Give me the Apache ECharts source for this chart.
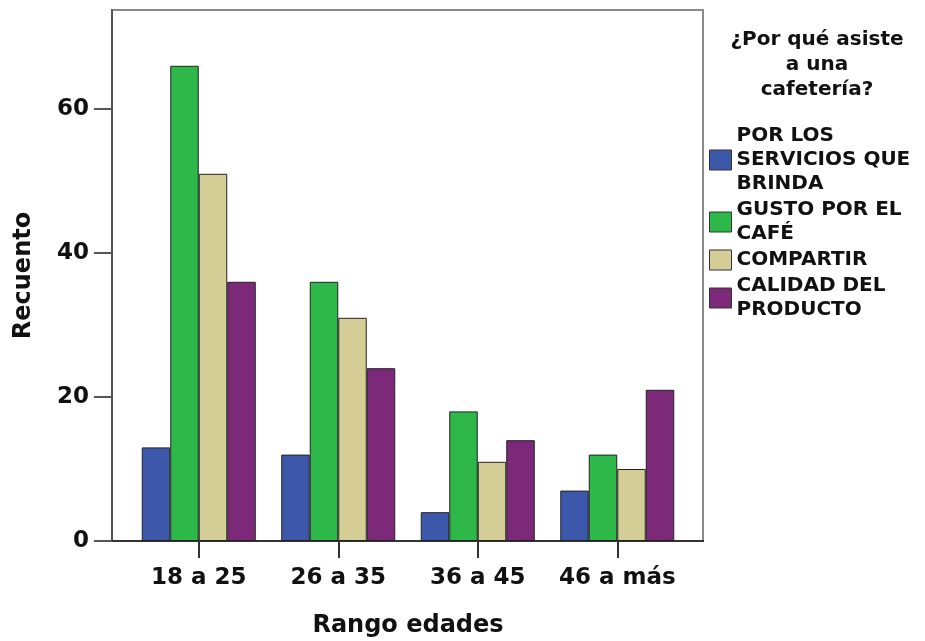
<!DOCTYPE html>
<html>
<head>
<meta charset="utf-8">
<script src="https://cdn.jsdelivr.net/npm/echarts@6/dist/echarts.min.js"></script>
<style>
  html, body { margin: 0; padding: 0; background: #fff; }
  #chart { width: 925px; height: 641px; }
</style>
</head>
<body>
<div id="chart"></div>
<script>
// Age ranges on the x axis
const categories = ['18 a 25', '26 a 35', '36 a 45', '46 a más'];

// Counts per reason for visiting a coffee shop
const serviciosValues = [13, 12, 4, 7];
const gustoValues = [66, 36, 18, 12];
const compartirValues = [51, 31, 11, 10];
const calidadValues = [36, 24, 14, 21];

const seriesNames = [
  'POR LOS\nSERVICIOS QUE\nBRINDA',
  'GUSTO POR EL\nCAFÉ',
  'COMPARTIR',
  'CALIDAD DEL\nPRODUCTO'
];
const seriesColors = ['#3D57AB', '#2EB84A', '#D4CE96', '#7C2979'];
const seriesValues = [serviciosValues, gustoValues, compartirValues, calidadValues];

const yTicks = [0, 20, 40, 60];

const textFont = 'DejaVu Sans';

const chart = echarts.init(document.getElementById('chart'));

chart.setOption({
  animation: false,
  backgroundColor: '#ffffff',
  grid: { left: 129, right: 238, top: 10, bottom: 100, outerBoundsMode: 'none', containLabel: false },
  graphic: [
    {
      type: 'rect',
      z: 0,
      shape: { x: 112, y: 10, width: 591, height: 531 },
      style: { fill: 'none', stroke: '#8a8a8a', lineWidth: 2 }
    },
    {
      type: 'line',
      z: 1,
      shape: { x1: 112, y1: 541, x2: 704, y2: 541 },
      style: { stroke: '#333333', lineWidth: 2 }
    },
    {
      type: 'text',
      x: 817,
      y: 27,
      style: {
        text: '¿Por qué asiste\na una\ncafetería?',
        font: 'bold 20px "DejaVu Sans"',
        fill: '#111111',
        textAlign: 'center',
        lineHeight: 25
      }
    }
  ],
  legend: {
    orient: 'vertical',
    left: 704,
    top: 119,
    itemWidth: 22,
    itemHeight: 20,
    itemGap: 2,
    icon: 'rect',
    selectedMode: false,
    itemStyle: { borderColor: '#333333', borderWidth: 1 },
    textStyle: {
      fontFamily: textFont,
      fontWeight: 'bold',
      fontSize: 20,
      lineHeight: 24,
      color: '#111111'
    },
    data: seriesNames
  },
  xAxis: {
    type: 'category',
    data: categories,
    axisLine: { show: false },
    axisTick: { show: true, interval: 0, alignWithLabel: true, length: 17, lineStyle: { color: '#333333', width: 2 } },
    axisLabel: { interval: 0, hideOverlap: false, fontFamily: textFont, fontWeight: 'bold', fontSize: 23, color: '#111111', margin: 26 },
    name: 'Rango edades',
    nameLocation: 'middle',
    nameGap: 73,
    nameTextStyle: { fontFamily: textFont, fontWeight: 'bold', fontSize: 24, color: '#111111' }
  },
  yAxis: {
    type: 'value',
    min: 0,
    max: 73.75,
    interval: 20,
    offset: 17,
    splitLine: { show: false },
    axisLine: { show: true, lineStyle: { color: '#555555', width: 2 } },
    axisTick: { show: true, length: 18, lineStyle: { color: '#555555', width: 2 } },
    axisLabel: {
      fontFamily: textFont,
      fontWeight: 'bold',
      fontSize: 23,
      color: '#111111',
      margin: 23,
      showMaxLabel: false,
      formatter: function (v) { return yTicks.indexOf(v) >= 0 ? String(v) : ''; }
    },
    name: 'Recuento',
    nameLocation: 'middle',
    nameGap: 76,
    nameTextStyle: { fontFamily: textFont, fontWeight: 'bold', fontSize: 24, color: '#111111' }
  },
  series: seriesNames.map(function (name, i) {
    return {
      name: name,
      type: 'bar',
      data: seriesValues[i],
      barWidth: 28.5,
      barGap: '0%',
      itemStyle: { color: seriesColors[i], borderColor: '#222222', borderWidth: 1 }
    };
  })
});
</script>
</body>
</html>
